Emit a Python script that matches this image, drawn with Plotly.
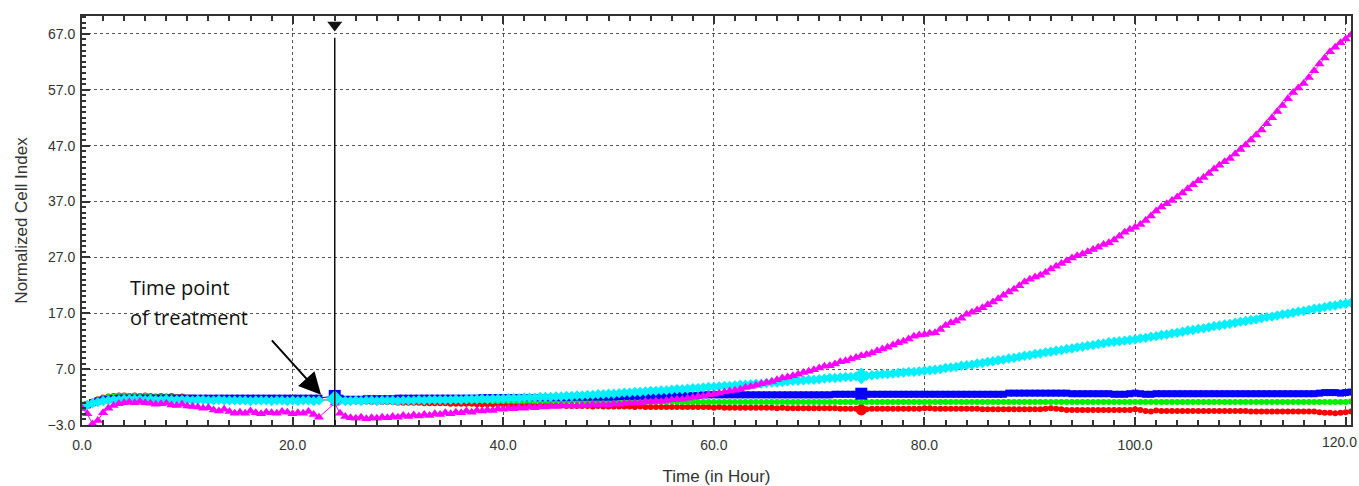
import numpy as np
import plotly.graph_objects as go

# Sampling times (hours): before and after the treatment pause
time_pre = np.arange(0.0, 22.51, 0.5)      # 46 samples
time_post = np.arange(24.0, 120.51, 0.5)   # 194 samples
treatment_time = 24.0

# Axis tick positions and labels
x_ticks = [0, 20, 40, 60, 80, 100, 120]
x_tick_labels = ["0.0", "20.0", "40.0", "60.0", "80.0", "100.0", "120.0"]

# Normalized cell index per well group, before treatment (0 - 22.5 h)
red_pre = [
    0.4, 0.8, 1.2, 1.6, 1.9, 2.1, 2.2, 2.3, 2.3, 2.2,
    2.3, 2.2, 2.3, 2.2, 2.1, 2.2, 2.1, 2.2, 2.0, 2.1,
    1.9, 1.9, 1.8, 1.8, 1.7, 1.7, 1.7, 1.6, 1.6, 1.6,
    1.5, 1.5, 1.5, 1.5, 1.5, 1.5, 1.5, 1.5, 1.5, 1.5,
    1.5, 1.5, 1.5, 1.5, 1.5, 1.5,
]
green_pre = [
    0.4, 0.8, 1.1, 1.5, 1.8, 2.0, 2.1, 2.2, 2.2, 2.1,
    2.2, 2.1, 2.2, 2.1, 2.0, 2.1, 2.0, 2.0, 1.9, 1.9,
    1.8, 1.8, 1.7, 1.7, 1.6, 1.6, 1.6, 1.5, 1.5, 1.5,
    1.5, 1.5, 1.5, 1.5, 1.5, 1.5, 1.5, 1.5, 1.5, 1.5,
    1.5, 1.5, 1.5, 1.5, 1.5, 1.5,
]
blue_pre = [
    0.2, 0.6, 1.0, 1.3, 1.5, 1.6, 1.7, 1.8, 1.8, 1.8,
    1.8, 1.8, 1.8, 1.8, 1.8, 1.8, 1.8, 1.8, 1.8, 1.8,
    1.8, 1.8, 1.8, 1.8, 1.8, 1.8, 1.8, 1.8, 1.8, 1.8,
    1.8, 1.8, 1.8, 1.8, 1.8, 1.8, 1.8, 1.8, 1.8, 1.8,
    1.8, 1.8, 1.8, 1.8, 1.8, 1.8,
]
cyan_pre = [
    0.3, 0.6, 0.9, 1.1, 1.3, 1.4, 1.5, 1.5, 1.6, 1.6,
    1.6, 1.6, 1.5, 1.6, 1.5, 1.5, 1.6, 1.5, 1.5, 1.5,
    1.5, 1.4, 1.5, 1.5, 1.4, 1.4, 1.5, 1.4, 1.4, 1.4,
    1.4, 1.4, 1.3, 1.4, 1.4, 1.4, 1.3, 1.4, 1.4, 1.3,
    1.4, 1.3, 1.4, 1.4, 1.3, 1.4,
]
magenta_pre = [
    0.0, -1.0, -2.8, -2.2, -0.8, 0.0, 0.5, 0.8, 1.0, 1.1,
    1.0, 1.2, 1.0, 0.9, 0.7, 0.8, 0.9, 0.6, 0.5, 0.7,
    0.4, 0.3, 0.2, 0.0, 0.1, -0.3, -0.5, -0.2, -0.6, -0.9,
    -0.7, -0.9, -0.5, -0.8, -1.0, -0.7, -0.8, -0.9, -0.6, -0.7,
    -1.0, -0.8, -0.9, -0.6, -1.1, -1.6,
]

# Normalized cell index after treatment (24 - 120.5 h)
red_post = [
    1.5, 1.3, 1.2, 1.2, 1.2, 1.2, 1.2, 1.1, 1.1, 1.1,
    1.1, 1.1, 1.0, 1.0, 1.0, 1.0, 1.0, 0.9, 0.9, 0.9,
    0.9, 0.9, 0.8, 0.8, 0.8, 0.8, 0.8, 0.7, 0.7, 0.7,
    0.7, 0.7, 0.7, 0.6, 0.6, 0.6, 0.6, 0.6, 0.5, 0.5,
    0.5, 0.5, 0.5, 0.5, 0.4, 0.4, 0.4, 0.4, 0.4, 0.3,
    0.4, 0.3, 0.3, 0.3, 0.3, 0.3, 0.3, 0.2, 0.3, 0.2,
    0.2, 0.2, 0.2, 0.2, 0.2, 0.2, 0.2, 0.2, 0.2, 0.2,
    0.2, 0.2, 0.1, 0.2, 0.1, 0.1, 0.1, 0.1, 0.1, 0.1,
    0.1, 0.1, 0.1, 0.1, 0.0, 0.1, 0.0, 0.0, 0.0, 0.0,
    0.0, 0.0, 0.0, 0.0, 0.0, 0.0, -0.1, -0.1, -0.1, -0.1,
    -0.3, -0.2, -0.1, -0.1, -0.1, -0.1, -0.1, -0.1, -0.1, -0.1,
    -0.1, -0.1, 0.0, 0.0, -0.1, -0.1, -0.1, -0.1, -0.1, -0.1,
    -0.1, -0.1, -0.1, -0.2, -0.2, -0.2, -0.2, -0.2, -0.2, -0.2,
    -0.2, -0.2, -0.2, -0.2, -0.2, -0.1, 0.0, -0.1, -0.2, -0.3,
    -0.3, -0.3, -0.3, -0.3, -0.3, -0.3, -0.3, -0.3, -0.3, -0.3,
    -0.3, -0.3, -0.2, -0.3, -0.5, -0.6, -0.4, -0.5, -0.5, -0.5,
    -0.5, -0.5, -0.5, -0.5, -0.5, -0.5, -0.5, -0.5, -0.5, -0.5,
    -0.5, -0.5, -0.5, -0.5, -0.6, -0.6, -0.6, -0.6, -0.6, -0.6,
    -0.6, -0.6, -0.6, -0.6, -0.6, -0.6, -0.6, -0.7, -0.8, -0.8,
    -0.9, -0.8, -0.7, -0.6,
]
green_post = [
    1.6, 1.5, 1.4, 1.4, 1.4, 1.4, 1.4, 1.4, 1.4, 1.4,
    1.4, 1.4, 1.4, 1.4, 1.4, 1.4, 1.4, 1.4, 1.4, 1.4,
    1.4, 1.4, 1.4, 1.4, 1.4, 1.4, 1.4, 1.4, 1.4, 1.4,
    1.3, 1.3, 1.3, 1.3, 1.3, 1.3, 1.3, 1.3, 1.3, 1.3,
    1.3, 1.3, 1.3, 1.3, 1.3, 1.3, 1.3, 1.3, 1.2, 1.3,
    1.2, 1.2, 1.2, 1.2, 1.2, 1.2, 1.2, 1.2, 1.2, 1.2,
    1.2, 1.2, 1.2, 1.1, 1.2, 1.1, 1.1, 1.1, 1.1, 1.1,
    1.1, 1.1, 1.1, 1.1, 1.1, 1.1, 1.1, 1.1, 1.1, 1.1,
    1.1, 1.1, 1.1, 1.1, 1.1, 1.1, 1.1, 1.1, 1.1, 1.1,
    1.1, 1.1, 1.1, 1.1, 1.1, 1.1, 1.1, 1.1, 1.1, 1.1,
    1.0, 1.1, 1.1, 1.1, 1.1, 1.1, 1.1, 1.1, 1.1, 1.1,
    1.1, 1.1, 1.1, 1.1, 1.1, 1.1, 1.1, 1.1, 1.1, 1.1,
    1.1, 1.1, 1.1, 1.1, 1.1, 1.1, 1.1, 1.1, 1.1, 1.1,
    1.1, 1.1, 1.1, 1.1, 1.1, 1.1, 1.1, 1.1, 1.1, 1.1,
    1.1, 1.1, 1.1, 1.1, 1.1, 1.1, 1.1, 1.1, 1.1, 1.1,
    1.1, 1.1, 1.1, 1.1, 1.1, 1.1, 1.1, 1.1, 1.1, 1.1,
    1.1, 1.1, 1.1, 1.1, 1.1, 1.1, 1.1, 1.1, 1.1, 1.1,
    1.1, 1.1, 1.1, 1.1, 1.1, 1.1, 1.1, 1.1, 1.1, 1.1,
    1.1, 1.1, 1.1, 1.1, 1.1, 1.1, 1.1, 1.1, 1.1, 1.1,
    1.1, 1.1, 1.1, 1.2,
]
blue_post = [
    2.2, 1.8, 1.6, 1.6, 1.6, 1.6, 1.7, 1.7, 1.7, 1.7,
    1.7, 1.7, 1.8, 1.8, 1.8, 1.8, 1.8, 1.8, 1.8, 1.8,
    1.8, 1.8, 1.8, 1.8, 1.8, 1.8, 1.8, 1.8, 1.9, 1.9,
    1.9, 1.9, 1.9, 1.9, 1.9, 1.9, 1.9, 1.9, 1.9, 1.9,
    1.9, 1.9, 1.9, 1.9, 1.9, 2.0, 2.0, 2.0, 2.0, 2.0,
    2.0, 2.0, 2.0, 2.0, 2.1, 2.1, 2.1, 2.1, 2.1, 2.2,
    2.2, 2.2, 2.2, 2.2, 2.3, 2.3, 2.3, 2.3, 2.3, 2.3,
    2.4, 2.4, 2.4, 2.4, 2.4, 2.4, 2.4, 2.4, 2.4, 2.4,
    2.4, 2.4, 2.4, 2.4, 2.4, 2.4, 2.4, 2.4, 2.4, 2.4,
    2.4, 2.4, 2.4, 2.4, 2.4, 2.5, 2.5, 2.5, 2.5, 2.5,
    2.6, 2.5, 2.5, 2.5, 2.5, 2.5, 2.5, 2.5, 2.5, 2.5,
    2.5, 2.5, 2.5, 2.5, 2.5, 2.5, 2.5, 2.5, 2.5, 2.5,
    2.5, 2.5, 2.5, 2.5, 2.5, 2.5, 2.5, 2.5, 2.7, 2.7,
    2.7, 2.7, 2.7, 2.7, 2.7, 2.7, 2.7, 2.7, 2.7, 2.7,
    2.6, 2.6, 2.6, 2.6, 2.6, 2.6, 2.6, 2.6, 2.5, 2.5,
    2.5, 2.6, 2.7, 2.6, 2.5, 2.5, 2.6, 2.6, 2.6, 2.6,
    2.6, 2.6, 2.6, 2.6, 2.6, 2.6, 2.6, 2.6, 2.6, 2.6,
    2.6, 2.6, 2.6, 2.6, 2.6, 2.6, 2.6, 2.6, 2.6, 2.6,
    2.6, 2.6, 2.6, 2.6, 2.6, 2.6, 2.6, 2.7, 2.8, 2.8,
    2.8, 2.7, 2.8, 2.9,
]
cyan_post = [
    1.7, 1.4, 1.3, 1.3, 1.4, 1.3, 1.4, 1.4, 1.3, 1.4,
    1.4, 1.4, 1.3, 1.4, 1.4, 1.4, 1.5, 1.4, 1.5, 1.5,
    1.5, 1.5, 1.5, 1.6, 1.5, 1.6, 1.6, 1.6, 1.7, 1.6,
    1.7, 1.7, 1.7, 1.8, 1.8, 1.8, 1.9, 1.9, 1.9, 2.0,
    2.0, 2.0, 2.1, 2.1, 2.2, 2.2, 2.3, 2.3, 2.4, 2.4,
    2.5, 2.5, 2.6, 2.6, 2.7, 2.8, 2.8, 2.9, 2.9, 3.0,
    3.1, 3.1, 3.2, 3.2, 3.3, 3.4, 3.4, 3.5, 3.6, 3.6,
    3.7, 3.8, 3.8, 3.9, 4.0, 4.0, 4.1, 4.2, 4.2, 4.3,
    4.4, 4.4, 4.5, 4.6, 4.6, 4.7, 4.8, 4.9, 4.9, 5.0,
    5.1, 5.1, 5.2, 5.3, 5.4, 5.4, 5.5, 5.6, 5.6, 5.7,
    5.8, 5.8, 5.9, 6.0, 6.1, 6.1, 6.2, 6.3, 6.4, 6.5,
    6.5, 6.6, 6.7, 6.8, 6.9, 7.0, 7.2, 7.3, 7.4, 7.6,
    7.7, 7.8, 8.0, 8.1, 8.3, 8.4, 8.6, 8.7, 8.9, 9.0,
    9.2, 9.4, 9.5, 9.7, 9.8, 10.0, 10.1, 10.3, 10.4, 10.6,
    10.7, 10.9, 11.0, 11.2, 11.3, 11.5, 11.6, 11.8, 11.9, 12.0,
    12.1, 12.2, 12.3, 12.5, 12.6, 12.8, 12.9, 13.1, 13.2, 13.4,
    13.5, 13.7, 13.9, 14.0, 14.2, 14.3, 14.5, 14.7, 14.8, 15.0,
    15.1, 15.3, 15.5, 15.6, 15.8, 15.9, 16.1, 16.3, 16.4, 16.6,
    16.8, 16.9, 17.1, 17.3, 17.4, 17.6, 17.8, 17.9, 18.1, 18.3,
    18.4, 18.6, 18.7, 18.9,
]
magenta_post = [
    0.9, -0.9, -1.5, -1.7, -1.8, -1.6, -1.9, -1.7, -1.8, -1.6,
    -1.7, -1.5, -1.6, -1.3, -1.5, -1.2, -1.4, -1.1, -1.3, -1.0,
    -1.1, -0.8, -1.0, -0.7, -0.8, -0.5, -0.7, -0.4, -0.5, -0.3,
    -0.4, -0.1, -0.2, 0.0, -0.1, 0.1, 0.0, 0.2, 0.1, 0.3,
    0.2, 0.4, 0.3, 0.5, 0.4, 0.5, 0.4, 0.6, 0.5, 0.7,
    0.6, 0.7, 0.6, 0.8, 0.7, 0.9, 0.9, 1.0, 1.0, 1.2,
    1.1, 1.3, 1.2, 1.4, 1.5, 1.6, 1.6, 1.8, 1.9, 2.1,
    2.2, 2.4, 2.5, 2.7, 2.9, 3.1, 3.2, 3.4, 3.7, 3.9,
    4.1, 4.4, 4.6, 4.8, 5.1, 5.4, 5.6, 5.8, 6.1, 6.4,
    6.6, 6.9, 7.2, 7.5, 7.6, 7.9, 8.3, 8.5, 8.8, 9.1,
    9.4, 9.6, 9.9, 10.3, 10.6, 10.9, 11.3, 11.7, 12.0, 12.4,
    12.9, 13.1, 13.2, 13.4, 13.5, 14.1, 14.8, 15.3, 15.6, 16.1,
    16.8, 17.2, 17.6, 18.0, 18.5, 19.0, 19.6, 20.2, 20.8, 21.3,
    21.9, 22.6, 23.1, 23.5, 23.8, 24.3, 24.9, 25.4, 25.9, 26.4,
    26.9, 27.3, 27.6, 28.0, 28.4, 28.8, 29.3, 29.6, 30.1, 30.8,
    31.5, 32.0, 32.4, 32.9, 33.6, 34.4, 35.3, 36.0, 36.6, 37.2,
    37.8, 38.5, 39.3, 40.0, 40.7, 41.3, 42.0, 42.8, 43.5, 44.1,
    44.7, 45.5, 46.3, 47.1, 48.0, 48.9, 49.8, 50.9, 52.0, 53.1,
    54.2, 55.4, 56.5, 57.3, 58.1, 59.2, 60.4, 61.6, 62.7, 63.8,
    64.6, 65.4, 66.1, 66.8,
]

time = np.concatenate([time_pre, time_post])

series = [
    ("red", red_pre + red_post, "#ff0000", "circle", 6),
    ("green", green_pre + green_post, "#00ee00", "circle", 6),
    ("blue", blue_pre + blue_post, "#0000ff", "square", 7),
    ("cyan", cyan_pre + cyan_post, "#00f0ff", "diamond", 8),
    ("magenta", magenta_pre + magenta_post, "#ff00ff", "triangle-up", 9),
]

fig = go.Figure()
for name, vals, color, symbol, size in series:
    fig.add_trace(go.Scatter(
        x=time, y=vals, mode="lines+markers", name=name,
        line=dict(color=color, width=1),
        marker=dict(color=color, symbol=symbol, size=size, line=dict(width=0)),
        showlegend=False, hoverinfo="skip",
    ))

# Enlarged cursor markers at the treatment point and at ~74 h
n_pre = len(time_pre)
cursor_idx = [n_pre, n_pre + 100]
for name, vals, color, symbol, size in series[:4]:
    if name == "green":
        continue
    fig.add_trace(go.Scatter(
        x=[time[i] for i in cursor_idx], y=[vals[i] for i in cursor_idx],
        mode="markers", showlegend=False, hoverinfo="skip",
        marker=dict(color=color, symbol=symbol, size=size + 5),
    ))

# Treatment marker: vertical line with a triangle at the top
fig.add_shape(type="line", x0=treatment_time, x1=treatment_time, y0=-3, y1=66.3,
              line=dict(color="#111111", width=1.5))
fig.add_trace(go.Scatter(
    x=[treatment_time], y=[68.6], mode="markers", showlegend=False, hoverinfo="skip",
    marker=dict(symbol="triangle-down", size=13, color="#111111"),
    cliponaxis=False,
))

fig.add_annotation(
    x=22.7, y=2.4, xref="x", yref="y",
    ax=17.9, ay=12.4, axref="x", ayref="y",
    showarrow=True, arrowhead=2, arrowsize=2.2, arrowwidth=2, arrowcolor="#000000",
    text="",
)
label_font = dict(family="Open Sans", size=20, color="#111111")
fig.add_annotation(
    x=4.4, y=21.6, xref="x", yref="y", xanchor="left", yanchor="middle",
    text="Time point", showarrow=False, font=label_font,
)
fig.add_annotation(
    x=4.4, y=16.2, xref="x", yref="y", xanchor="left", yanchor="middle",
    text="of treatment", showarrow=False, font=label_font,
)

axis_font = dict(family="Liberation Sans, Arial", size=14, color="#333333")
title_font = dict(family="Liberation Sans, Arial", size=17, color="#333333")

# The last x label sits at the page edge, so it is placed with a small
# leftward shift instead of being centred on its tick.
fig.add_annotation(
    x=x_ticks[-1], y=0, xref="x", yref="paper", yanchor="top", xanchor="center",
    yshift=-7, xshift=-6, showarrow=False,
    text=x_tick_labels[-1], font=axis_font,
)

fig.update_layout(
    width=1359, height=486,
    margin=dict(l=82, r=8, t=16, b=61, autoexpand=False),
    paper_bgcolor="white", plot_bgcolor="white",
    xaxis=dict(
        range=[0, 120.5], tickmode="array", tickvals=x_ticks,
        ticktext=x_tick_labels[:-1] + [""],
        automargin=False,
        showgrid=True, gridcolor="#555555", griddash="dot", gridwidth=1,
        ticks="inside", ticklen=8, tickwidth=1.5, tickcolor="#333333",
        minor=dict(dtick=2, tick0=0, ticks="inside", ticklen=5, tickcolor="#333333", showgrid=False),
        showline=True, linecolor="#333333", linewidth=2, mirror="ticks",
        zeroline=False, tickfont=axis_font, ticklabelstandoff=6,
        title=dict(text="Time (in Hour)", font=title_font, standoff=18),
    ),
    yaxis=dict(
        range=[-3, 70.2], tick0=-3, dtick=10, tickformat=".1f",
        automargin=False,
        showgrid=True, gridcolor="#555555", griddash="dot", gridwidth=1,
        ticks="inside", ticklen=8, tickwidth=1.5, tickcolor="#333333",
        minor=dict(dtick=1, ticks="inside", ticklen=4, tickcolor="#333333", showgrid=False),
        showline=True, linecolor="#333333", linewidth=2, mirror=True,
        zeroline=False, tickfont=axis_font, ticklabelstandoff=2,
        title=dict(text="Normalized Cell Index", font=title_font, standoff=16),
    ),
)

fig.write_html("out.html")
